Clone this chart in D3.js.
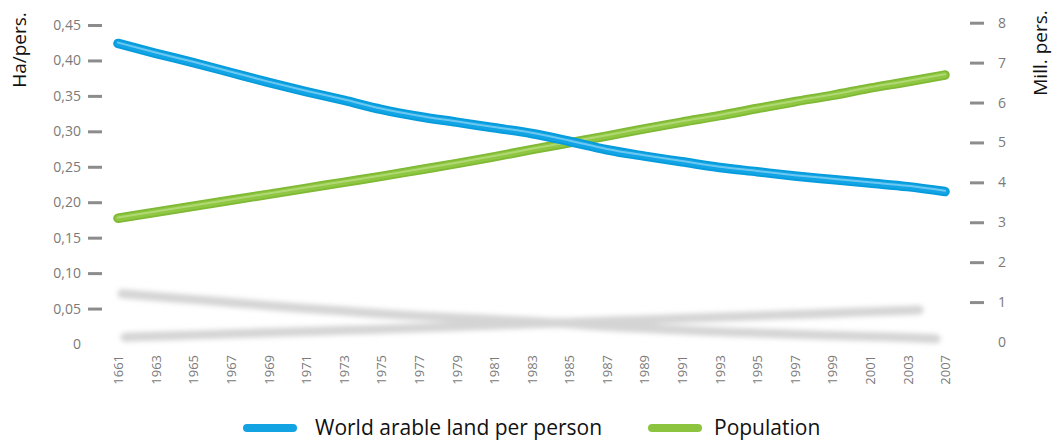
<!DOCTYPE html>
<html>
<head>
<meta charset="utf-8">
<script src="https://cdn.jsdelivr.net/npm/d3@7/dist/d3.min.js"></script>
<style>
  body { margin: 0; background: #fff; }
  svg text { font-family: "Open Sans", "Noto Sans", sans-serif; }
</style>
</head>
<body>
<svg id="chart" width="1054" height="443"></svg>
<script>
// Category labels along the bottom axis (as printed)
const years = ["1661", "1963", "1965", "1967", "1969", "1971", "1973", "1975", "1977", "1979",
  "1981", "1983", "1985", "1987", "1989", "1991", "1993", "1995", "1997", "1999",
  "2001", "2003", "2007"];

// World arable land per person, hectares (left axis)
const landPerPerson = [0.424, 0.410, 0.397, 0.383, 0.369, 0.356, 0.344, 0.331, 0.321, 0.313,
  0.305, 0.297, 0.286, 0.274, 0.265, 0.257, 0.249, 0.243, 0.237, 0.232,
  0.227, 0.222, 0.215];

// World population, billions (right axis)
const population = [3.10, 3.25, 3.40, 3.55, 3.70, 3.85, 4.00, 4.15, 4.31, 4.47,
  4.64, 4.82, 4.99, 5.16, 5.34, 5.51, 5.67, 5.85, 6.02, 6.18,
  6.36, 6.52, 6.69];

const leftTicks = [0, 0.05, 0.10, 0.15, 0.20, 0.25, 0.30, 0.35, 0.40, 0.45];
const rightTicks = [0, 1, 2, 3, 4, 5, 6, 7, 8];

const seriesNames = ["World arable land per person", "Population"];

const svg = d3.select("#chart");

// Scales
const x = d3.scalePoint().domain(years).range([118, 945]);
const yLeft = d3.scaleLinear().domain([0, 0.45]).range([344, 25]);
const yRight = d3.scaleLinear().domain([0, 8]).range([342, 22.7]);

// Flattened, blurred ground shadows under each line
const xShadowLand = d3.scalePoint().domain(years).range([122, 936]);
const yShadowLand = d3.scaleLinear().domain([0, 0.45]).range([385.2, 288.2]);
const xShadowPop = d3.scalePoint().domain(years).range([125, 919]);
const yShadowPop = d3.scaleLinear().domain([0, 8]).range([360.5, 300.2]);

const defs = svg.append("defs");
defs.append("filter").attr("id", "soft")
  .attr("x", "-5%").attr("y", "-100%").attr("width", "110%").attr("height", "300%")
  .append("feGaussianBlur").attr("stdDeviation", 2.8);

const shadowLayer = svg.append("g").attr("filter", "url(#soft)");
shadowLayer.append("path")
  .datum(landPerPerson)
  .attr("d", d3.line().curve(d3.curveMonotoneX).x((d, i) => xShadowLand(years[i])).y(d => yShadowLand(d)))
  .attr("fill", "none").attr("stroke", "#d4d4d4").attr("stroke-width", 9)
  .attr("stroke-linecap", "round");
shadowLayer.append("path")
  .datum(population)
  .attr("d", d3.line().curve(d3.curveMonotoneX).x((d, i) => xShadowPop(years[i])).y(d => yShadowPop(d)))
  .attr("fill", "none").attr("stroke", "#d4d4d4").attr("stroke-width", 9)
  .attr("stroke-linecap", "round");

// Left axis: tick marks and labels
const fmtLeft = v => v === 0 ? "0" : d3.format(".2f")(v).replace(".", ",");
const leftAxis = svg.append("g").attr("transform", "translate(102,0)")
  .call(d3.axisLeft(yLeft).tickValues(leftTicks).tickSize(14).tickPadding(7).tickFormat(fmtLeft));
leftAxis.select(".domain").remove();
leftAxis.selectAll(".tick line")
  .attr("stroke", "#8c8c8c").attr("stroke-width", 3)
  .attr("display", d => d === 0 ? "none" : null);
leftAxis.selectAll(".tick text")
  .attr("fill", "#7a7a7a").style("font-size", "14px").style("font-family", "'Open Sans', sans-serif");

// Right axis
const rightAxis = svg.append("g").attr("transform", "translate(970,0)")
  .call(d3.axisRight(yRight).tickValues(rightTicks).tickSize(14).tickPadding(14).tickFormat(d3.format("d")));
rightAxis.select(".domain").remove();
rightAxis.selectAll(".tick line")
  .attr("stroke", "#8c8c8c").attr("stroke-width", 3)
  .attr("display", d => d === 0 ? "none" : null);
rightAxis.selectAll(".tick text")
  .attr("fill", "#7a7a7a").style("font-size", "14px").style("font-family", "'Open Sans', sans-serif");

// Bottom category labels, rotated
const bottom = svg.append("g").attr("transform", "translate(0,355)")
  .call(d3.axisBottom(x).tickSize(0).tickPadding(0));
bottom.select(".domain").remove();
bottom.selectAll(".tick text")
  .attr("transform", "rotate(-90)")
  .attr("text-anchor", "end")
  .attr("x", 0).attr("y", 0).attr("dy", "0.36em")
  .attr("fill", "#7a7a7a").style("font-size", "13px").style("font-family", "'Open Sans', sans-serif");

// Axis titles
svg.append("text")
  .attr("transform", "translate(26,50) rotate(-90)")
  .attr("text-anchor", "middle")
  .attr("fill", "#111").style("font-size", "19px")
  .text("Ha/pers.");
svg.append("text")
  .attr("transform", "translate(1047,53) rotate(-90)")
  .attr("text-anchor", "middle")
  .attr("fill", "#111").style("font-size", "19px")
  .text("Mill. pers.");

// Tube-like series lines: dark rim, body, light highlight
function tube(data, xs, ys, rim, body, shine) {
  const line = d3.line().curve(d3.curveMonotoneX).x((d, i) => xs(years[i])).y(d => ys(d));
  const g = svg.append("g");
  g.append("path").datum(data).attr("d", line)
    .attr("fill", "none").attr("stroke", rim).attr("stroke-width", 9.5)
    .attr("stroke-linecap", "round").attr("stroke-linejoin", "round");
  g.append("path").datum(data).attr("d", line)
    .attr("fill", "none").attr("stroke", body).attr("stroke-width", 6)
    .attr("stroke-linecap", "round").attr("stroke-linejoin", "round");
  g.append("path").datum(data).attr("d", line)
    .attr("transform", "translate(0,-0.8)")
    .attr("fill", "none").attr("stroke", shine).attr("stroke-width", 2)
    .attr("stroke-opacity", 0.85)
    .attr("stroke-linecap", "round").attr("stroke-linejoin", "round");
}

tube(population, x, yRight, "#7fb935", "#8fc742", "#b6dc7c");
tube(landPerPerson, x, yLeft, "#069cdc", "#12a4e4", "#7ccff2");

// Legend
const legend = [
  { name: seriesNames[0], color: "#13a2e2", x0: 243, x1: 297, tx: 315 },
  { name: seriesNames[1], color: "#8dc43f", x0: 648, x1: 702, tx: 714 }
];
const lg = svg.append("g");
legend.forEach(l => {
  lg.append("line")
    .attr("x1", l.x0 + 4).attr("x2", l.x1 - 4).attr("y1", 428).attr("y2", 428)
    .attr("stroke", l.color).attr("stroke-width", 8).attr("stroke-linecap", "round");
  lg.append("text")
    .attr("x", l.tx).attr("y", 435)
    .attr("fill", "#111").style("font-size", "21px")
    .text(l.name);
});
</script>
</body>
</html>
